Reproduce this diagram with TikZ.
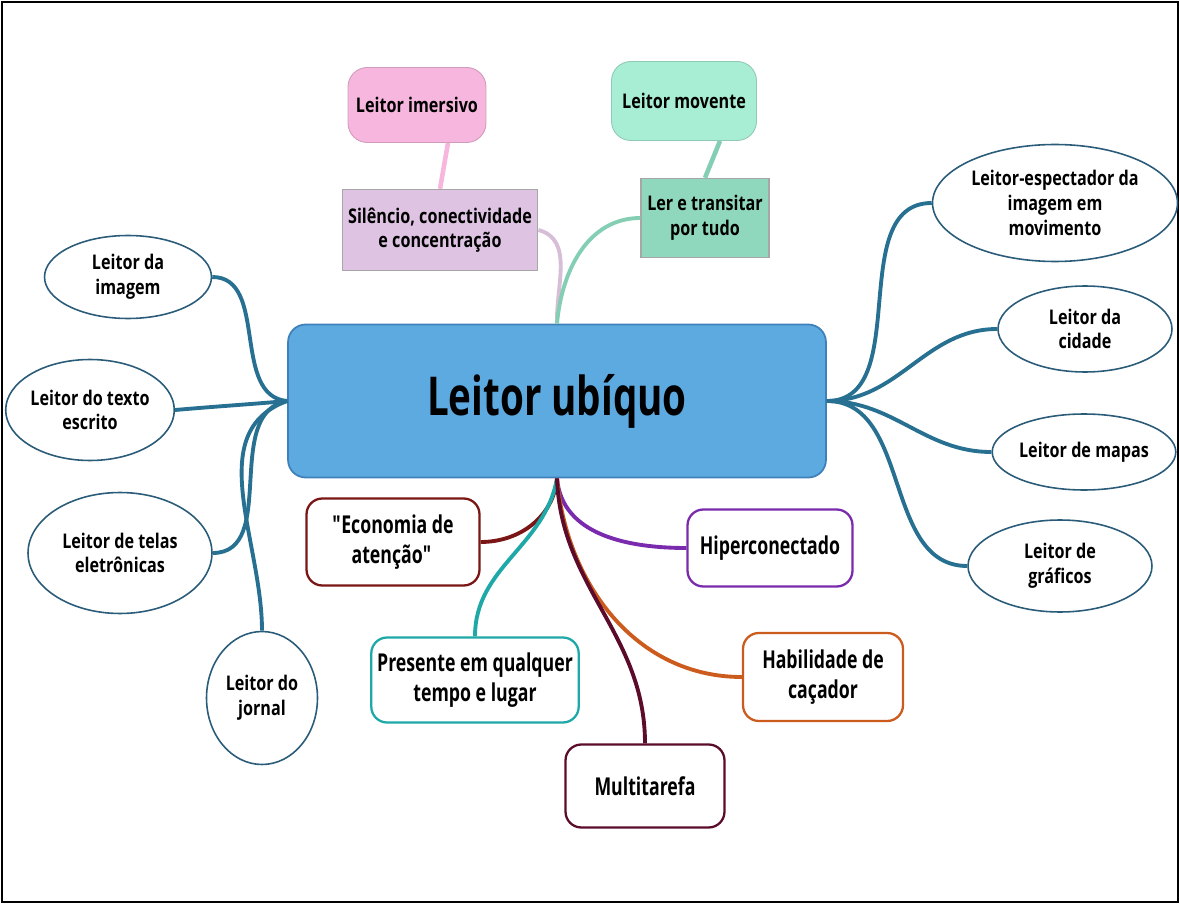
\documentclass[tikz,border=0pt]{standalone}
\usepackage{fontspec}
\setmainfont{Open Sans}[FakeStretch=0.8]
\newfontfamily\cardfont{Open Sans}[FakeStretch=0.72]
\usepackage{xcolor}
\usetikzlibrary{shapes.geometric}

\definecolor{mainfill}{RGB}{93,170,224}
\definecolor{mainline}{RGB}{62,128,186}
\definecolor{ovalline}{RGB}{42,92,122}
\definecolor{leftline}{RGB}{40,112,146}
\definecolor{pinkfill}{RGB}{246,182,221}
\definecolor{lilacfill}{RGB}{222,196,226}
\definecolor{lilacline}{RGB}{214,190,214}
\definecolor{mintfill}{RGB}{168,238,212}
\definecolor{tealfill}{RGB}{143,216,190}
\definecolor{tealline}{RGB}{132,206,180}
\definecolor{econ}{RGB}{122,22,22}
\definecolor{hiper}{RGB}{122,42,172}
\definecolor{pres}{RGB}{30,168,168}
\definecolor{caca}{RGB}{204,92,30}
\definecolor{multi}{RGB}{92,12,42}

\begin{document}
\begin{tikzpicture}[
    x=0.02cm, y=0.02cm,
    font=\bfseries\fontsize{11.5}{14}\selectfont,
    oval/.style={
      ellipse,
      draw=ovalline,
      line width=0.9pt,
      fill=white,
      inner sep=0pt,
      align=center
    },
    card/.style={
      rectangle,
      draw=#1,
      line width=1.3pt,
      rounded corners=9pt,
      fill=white,
      align=center,
      font=\cardfont\bfseries\fontsize{14}{17}\selectfont
    },
    bubble/.style={
      rectangle,
      rounded corners=11pt,
      fill=#1,
      draw=#1!85!black,
      line width=0.5pt,
      align=center
    },
    note/.style={
      rectangle,
      fill=#1,
      draw=gray!70,
      line width=0.8pt,
      align=center
    },
    branch/.style={
      draw=#1,
      line width=2.2pt
    }
  ]
  \useasboundingbox (0,0) rectangle (1180,904);
  \draw[line width=1.5pt] (2,2) rectangle (1178,902);

  \node[rectangle, rounded corners=10pt, fill=mainfill, draw=mainline, line width=1pt,
    minimum width=10.76cm, minimum height=3.06cm,
    font=\cardfont\bfseries\fontsize{30.5}{36}\selectfont] (ubiq) at (557,503) {Leitor ubíquo};

  \node[bubble=pinkfill, minimum width=2.76cm, minimum height=1.5cm] (imersivo) at (417,799) {Leitor imersivo};
  \node[note=lilacfill, minimum width=3.86cm, minimum height=1.62cm] (silencio) at (440,674) {Silêncio, conectividade\\e concentração};
  \node[bubble=mintfill, minimum width=2.9cm, minimum height=1.58cm] (movente) at (684,803) {Leitor movente};
  \node[note=tealfill, minimum width=2.56cm, minimum height=1.58cm] (ler) at (705,686) {Ler e transitar\\por tudo};

  \node[oval, minimum width=3.34cm, minimum height=1.66cm] (imagem) at (128,627) {Leitor da\\imagem};
  \node[oval, minimum width=3.28cm, minimum height=2.02cm] (texto) at (90,494) {Leitor do texto\\escrito};
  \node[oval, minimum width=3.68cm, minimum height=2.42cm] (telas) at (120,351) {Leitor de telas\\eletrônicas};
  \node[oval, minimum width=2.22cm, minimum height=2.66cm] (jornal) at (262,206) {Leitor do\\jornal};

  \node[oval, minimum width=4.9cm, minimum height=2.34cm] (espectador) at (1055,701) {Leitor-espectador da\\imagem em\\movimento};
  \node[oval, minimum width=3.48cm, minimum height=1.72cm] (cidade) at (1085,575) {Leitor da\\cidade};
  \node[oval, minimum width=3.54cm, minimum height=1.52cm] (mapas) at (1084,452) {Leitor de mapas};
  \node[oval, minimum width=3.68cm, minimum height=1.84cm] (graficos) at (1060,338) {Leitor de\\gráficos};

  \node[card=econ, minimum width=3.46cm, minimum height=1.74cm] (economia) at (393,362) {\textquotedbl\kern-1.5pt Economia de\\atenção\textquotedbl};
  \node[card=hiper, minimum width=3.3cm, minimum height=1.54cm] (hiperc) at (770,356) {Hiperconectado};
  \node[card=pres, minimum width=4.12cm, minimum height=1.7cm] (presente) at (475,224) {Presente em qualquer\\tempo e lugar};
  \node[card=caca, minimum width=3.2cm, minimum height=1.76cm] (cacador) at (823,227) {Habilidade de\\caçador};
  \node[card=multi, minimum width=3.18cm, minimum height=1.66cm] (multitarefa) at (645,118) {Multitarefa};

  \draw[branch=pinkfill, line width=2.6pt] ([xshift=0.62cm]imersivo.south) -- (silencio.north);
  \draw[branch=tealline, line width=2.6pt] ([xshift=0.72cm]movente.south) -- (ler.north);
  \draw[branch=lilacline] (silencio.east) to[out=-15, in=92] (ubiq.north);
  \draw[branch=tealline] (ler.west) to[out=180, in=85] (ubiq.north);

  \draw[branch=leftline] (imagem.east) to[out=0, in=175] (ubiq.west);
  \draw[branch=leftline] (texto.east) to[out=5, in=185] (ubiq.west);
  \draw[branch=leftline] (telas.east) to[out=0, in=190] (ubiq.west);
  \draw[branch=leftline] (jornal.north) to[out=90, in=200] (ubiq.west);

  \draw[branch=leftline] (espectador.west) to[out=180, in=0] (ubiq.east);
  \draw[branch=leftline] (cidade.west) to[out=180, in=0] (ubiq.east);
  \draw[branch=leftline] (mapas.west) to[out=180, in=0] (ubiq.east);
  \draw[branch=leftline] (graficos.west) to[out=180, in=0] (ubiq.east);

  \draw[branch=econ] (economia.east) to[out=0, in=-95] (ubiq.south);
  \draw[branch=pres] (presente.north) to[out=90, in=-100] (ubiq.south);
  \draw[branch=hiper] (hiperc.west) to[out=180, in=-85] (ubiq.south);
  \draw[branch=caca] (cacador.west) to[out=180, in=-85] (ubiq.south);
  \draw[branch=multi] (multitarefa.north) to[out=90, in=-88] (ubiq.south);
\end{tikzpicture}
\end{document}
